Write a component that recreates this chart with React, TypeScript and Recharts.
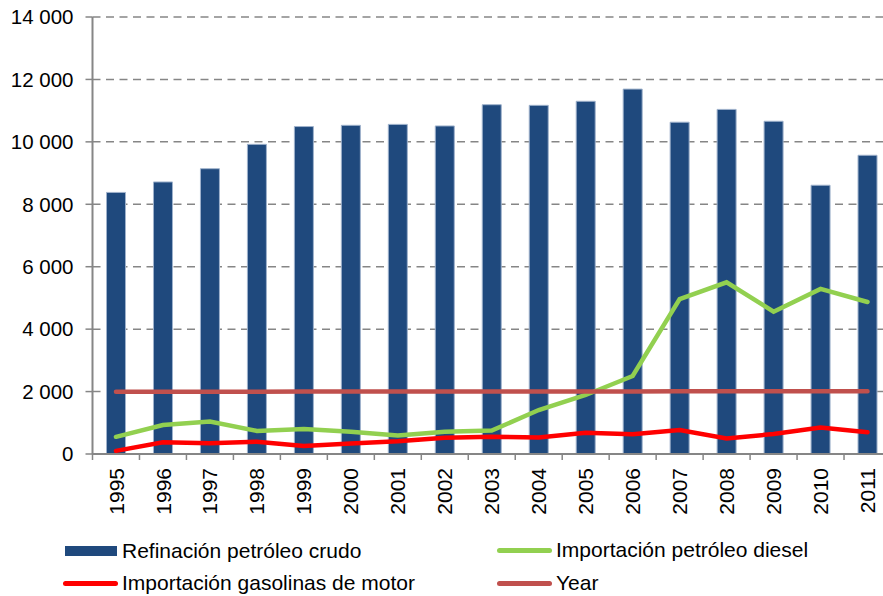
import { ComposedChart, Bar, Line, XAxis, YAxis, CartesianGrid } from "recharts";

// Series values
const years = ["1995", "1996", "1997", "1998", "1999", "2000", "2001", "2002", "2003", "2004", "2005", "2006", "2007", "2008", "2009", "2010", "2011"];
const refinacion = [8380, 8715, 9140, 9920, 10490, 10530, 10560, 10510, 11190, 11170, 11300, 11690, 10630, 11040, 10660, 8610, 9570];
const diesel = [550, 930, 1040, 740, 800, 715, 590, 715, 750, 1410, 1890, 2500, 4960, 5500, 4560, 5290, 4870];
const gasolinas = [100, 375, 345, 395, 255, 340, 405, 520, 555, 525, 680, 630, 770, 500, 640, 845, 695];
const yearSeries = [1995, 1996, 1997, 1998, 1999, 2000, 2001, 2002, 2003, 2004, 2005, 2006, 2007, 2008, 2009, 2010, 2011];
const yTicks = [0, 2000, 4000, 6000, 8000, 10000, 12000, 14000];

const data = years.map((y, i) => ({
  year: y,
  refinacion: refinacion[i],
  diesel: diesel[i],
  gasolinas: gasolinas[i],
  yr: yearSeries[i],
}));

const FONT = "'Liberation Sans', Arial, sans-serif";
const AXIS = "#868686";
const W = 900;
const H = 530;
const MARGIN = { top: 17, right: 9, bottom: 6, left: 0 };
const Y_W = 92.5;
const X_H = 70;
const PLOT_BOTTOM = H - MARGIN.bottom - X_H;
const HALF_BAND = (W - MARGIN.left - MARGIN.right - Y_W) / years.length / 2;

const fmt = (v: number) => v.toLocaleString("en-US").replace(/,/g, " ");

function XTick(props: any) {
  const { x, payload, index } = props;
  const isLast = index === years.length - 1;
  return (
    <g>
      <line x1={x - HALF_BAND} x2={x - HALF_BAND} y1={PLOT_BOTTOM} y2={PLOT_BOTTOM + 6} stroke={AXIS} strokeWidth={1.5} />
      {isLast && (
        <line x1={x + HALF_BAND} x2={x + HALF_BAND} y1={PLOT_BOTTOM} y2={PLOT_BOTTOM + 6} stroke={AXIS} strokeWidth={1.5} />
      )}
      <text
        transform={`translate(${x},${PLOT_BOTTOM + 14}) rotate(-90)`}
        textAnchor="end"
        dy="0.36em"
        fill="#000"
        fontSize={21}
        fontFamily={FONT}
      >
        {payload.value}
      </text>
    </g>
  );
}

const legendItems = [
  { label: "Refinación petróleo crudo", color: "#1F497D", kind: "bar", left: 65, top: 550.5 },
  { label: "Importación petróleo diesel", color: "#92D050", kind: "line", left: 497, top: 550 },
  { label: "Importación gasolinas de motor", color: "#FF0000", kind: "line", left: 63, top: 583 },
  { label: "Year", color: "#C0504D", kind: "line", left: 497, top: 583 },
];

export default function App() {
  return (
    <div
      style={{
        position: "fixed",
        left: 0,
        top: 0,
        width: 883,
        height: 596,
        overflow: "hidden",
        background: "#fff",
        fontFamily: FONT,
      }}
    >
      <ComposedChart width={W} height={H} data={data} margin={MARGIN}>
        <CartesianGrid vertical={false} stroke={AXIS} strokeWidth={1.5} strokeDasharray="8 5.5" />
        <XAxis
          dataKey="year"
          height={X_H}
          interval={0}
          tickLine={false}
          axisLine={{ stroke: AXIS, strokeWidth: 2 }}
          tick={<XTick />}
        />
        <YAxis
          width={Y_W}
          domain={[0, 14000]}
          ticks={yTicks}
          tickFormatter={fmt}
          tickSize={7}
          tickMargin={12}
          axisLine={{ stroke: AXIS, strokeWidth: 2 }}
          tickLine={{ stroke: AXIS, strokeWidth: 1.5 }}
          tick={{ fill: "#000", fontSize: 20.5, fontFamily: FONT }}
        />
        <Bar dataKey="refinacion" barSize={19} fill="#1F497D" stroke="#9fb2cc" strokeWidth={1} isAnimationActive={false} />
        <Line type="linear" dataKey="diesel" stroke="#92D050" strokeWidth={4.5} dot={false} strokeLinecap="round" isAnimationActive={false} />
        <Line type="linear" dataKey="gasolinas" stroke="#FF0000" strokeWidth={4.5} dot={false} strokeLinecap="round" isAnimationActive={false} />
        <Line type="linear" dataKey="yr" stroke="#C0504D" strokeWidth={4.5} dot={false} strokeLinecap="round" isAnimationActive={false} />
      </ComposedChart>
      {legendItems.map((it) => (
        <div
          key={it.label}
          style={{
            position: "absolute",
            left: it.left,
            top: it.top,
            transform: "translateY(-50%)",
            display: "flex",
            alignItems: "center",
            fontSize: 21,
            color: "#000",
            whiteSpace: "nowrap",
          }}
        >
          {it.kind === "bar" ? (
            <span style={{ display: "inline-block", width: 52, height: 10, background: it.color, marginRight: 5 }} />
          ) : (
            <span style={{ display: "inline-block", width: 55, height: 5, borderRadius: 3, background: it.color, marginRight: 4 }} />
          )}
          <span>{it.label}</span>
        </div>
      ))}
    </div>
  );
}
